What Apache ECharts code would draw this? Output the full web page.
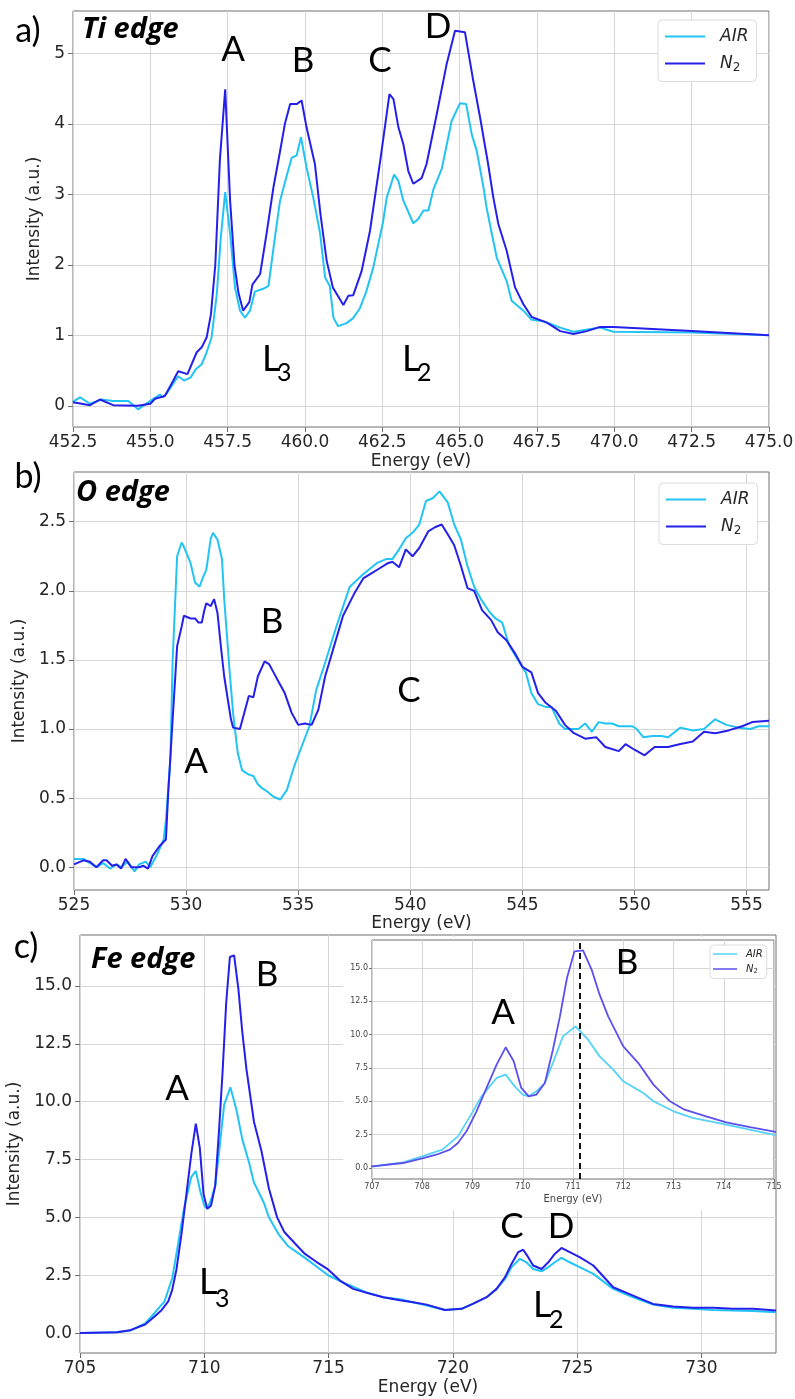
<!DOCTYPE html>
<html>
<head>
<meta charset="utf-8">
<script src="https://cdn.jsdelivr.net/npm/echarts@6/dist/echarts.min.js"></script>
<style>
html,body{margin:0;padding:0;background:#fff;}
#chart{width:795px;height:1399px;}
</style>
</head>
<body>
<div id="chart"></div>
<script>
// ---------- DATA ----------
// Panel a: Ti edge [energy eV, intensity]
const tiAir = [[452.5,0.06],[452.73,0.12],[453.05,0.03],[453.43,0.09],[453.8,0.07],[454.29,0.07],[454.6,-0.05],[455.0,0.07],[455.31,0.16],[455.4,0.12],[455.55,0.19],[455.9,0.42],[456.09,0.36],[456.3,0.4],[456.47,0.52],[456.66,0.59],[456.82,0.76],[456.98,0.97],[457.15,1.59],[457.28,2.4],[457.42,3.03],[457.58,2.44],[457.74,1.67],[457.9,1.35],[458.06,1.25],[458.22,1.35],[458.38,1.62],[458.65,1.66],[458.82,1.7],[459.0,2.3],[459.19,2.9],[459.4,3.25],[459.57,3.52],[459.73,3.55],[459.87,3.81],[460.05,3.38],[460.27,2.95],[460.49,2.44],[460.65,1.82],[460.8,1.7],[460.92,1.25],[461.07,1.13],[461.33,1.17],[461.55,1.24],[461.77,1.38],[461.98,1.62],[462.2,1.95],[462.52,2.6],[462.64,2.95],[462.88,3.28],[463.02,3.19],[463.18,2.91],[463.5,2.59],[463.66,2.65],[463.83,2.77],[463.99,2.77],[464.15,3.07],[464.42,3.36],[464.74,4.04],[465.01,4.29],[465.21,4.28],[465.39,3.85],[465.55,3.62],[465.77,3.1],[465.87,2.81],[466.04,2.44],[466.2,2.1],[466.52,1.77],[466.68,1.49],[467.06,1.35],[467.33,1.22],[467.7,1.2],[468.25,1.11],[468.68,1.05],[469.54,1.11],[469.97,1.05],[472.5,1.04],[475.0,1.0]];
const tiN2 = [[452.5,0.05],[453.05,0.01],[453.37,0.09],[453.8,0.01],[454.6,0.0],[455.0,0.03],[455.15,0.1],[455.47,0.14],[455.73,0.35],[455.9,0.49],[456.2,0.45],[456.5,0.76],[456.66,0.83],[456.82,0.97],[456.96,1.3],[457.1,2.0],[457.25,3.5],[457.42,4.49],[457.58,2.9],[457.72,2.0],[457.85,1.6],[458.0,1.35],[458.2,1.47],[458.3,1.72],[458.55,1.87],[458.76,2.45],[458.98,3.1],[459.19,3.6],[459.35,4.0],[459.52,4.28],[459.73,4.28],[459.89,4.33],[460.05,3.95],[460.32,3.43],[460.5,2.72],[460.7,2.06],[460.9,1.68],[461.24,1.43],[461.4,1.56],[461.56,1.57],[461.83,1.91],[462.1,2.48],[462.43,3.47],[462.73,4.42],[462.86,4.35],[463.02,3.95],[463.18,3.71],[463.34,3.33],[463.5,3.15],[463.77,3.23],[463.93,3.43],[464.26,4.14],[464.58,4.85],[464.85,5.32],[465.17,5.3],[465.44,4.61],[465.66,4.09],[465.92,3.43],[466.09,2.95],[466.25,2.58],[466.52,2.2],[466.79,1.68],[467.06,1.44],[467.33,1.26],[467.82,1.18],[468.25,1.06],[468.68,1.02],[469.11,1.06],[469.54,1.12],[469.97,1.12],[472.5,1.06],[475.0,1.0]];

// Panel b: O edge
const oAir = [[525.0,0.06],[525.42,0.06],[525.71,0.03],[526.0,0.0],[526.3,0.03],[526.6,-0.01],[526.9,0.02],[527.1,0.0],[527.4,0.04],[527.7,-0.03],[527.9,0.02],[528.2,0.04],[528.4,0.0],[528.7,0.09],[529.0,0.2],[529.1,0.34],[529.3,0.78],[529.4,1.5],[529.6,2.25],[529.8,2.35],[529.9,2.32],[530.2,2.2],[530.4,2.06],[530.6,2.03],[530.76,2.1],[530.9,2.15],[531.1,2.38],[531.2,2.42],[531.4,2.37],[531.6,2.23],[531.7,1.94],[531.95,1.4],[532.1,1.11],[532.3,0.83],[532.5,0.7],[532.8,0.67],[533.0,0.66],[533.2,0.6],[533.4,0.57],[533.6,0.55],[533.9,0.51],[534.2,0.49],[534.5,0.56],[534.8,0.72],[535.1,0.85],[535.5,1.02],[535.8,1.28],[536.2,1.48],[536.7,1.74],[537.3,2.03],[537.9,2.12],[538.5,2.2],[538.92,2.23],[539.2,2.23],[539.5,2.3],[539.8,2.38],[540.1,2.42],[540.4,2.48],[540.7,2.65],[541.0,2.67],[541.3,2.72],[541.67,2.64],[541.96,2.48],[542.26,2.37],[542.55,2.18],[542.85,2.03],[543.15,1.94],[543.52,1.85],[543.8,1.8],[544.1,1.77],[544.4,1.61],[544.8,1.5],[545.15,1.41],[545.4,1.26],[545.7,1.18],[546.04,1.16],[546.3,1.16],[546.64,1.04],[546.9,1.0],[547.5,1.0],[547.8,1.04],[548.1,0.98],[548.4,1.05],[548.7,1.04],[549.0,1.04],[549.3,1.02],[549.9,1.02],[550.1,1.0],[550.4,0.94],[550.8,0.95],[551.2,0.95],[551.5,0.94],[552.05,1.01],[552.6,0.99],[553.1,1.0],[553.6,1.07],[554.1,1.03],[554.65,1.01],[555.17,1.0],[555.54,1.02],[556.0,1.02]];
const oN2 = [[525.0,0.02],[525.42,0.05],[525.71,0.04],[526.0,0.0],[526.3,0.05],[526.45,0.05],[526.7,0.01],[526.9,0.02],[527.1,-0.01],[527.3,0.06],[527.55,0.0],[527.75,0.0],[527.9,0.0],[528.1,0.01],[528.3,-0.01],[528.5,0.08],[528.8,0.15],[529.1,0.2],[529.2,0.53],[529.4,1.07],[529.6,1.6],[529.8,1.74],[529.9,1.82],[530.2,1.8],[530.4,1.8],[530.55,1.77],[530.7,1.77],[530.8,1.85],[530.9,1.91],[531.1,1.89],[531.25,1.94],[531.4,1.84],[531.55,1.6],[531.7,1.38],[532.0,1.07],[532.1,1.01],[532.4,1.0],[532.6,1.12],[532.8,1.24],[533.0,1.23],[533.2,1.38],[533.5,1.49],[533.7,1.47],[533.9,1.41],[534.1,1.35],[534.4,1.26],[534.7,1.12],[535.0,1.03],[535.3,1.04],[535.6,1.03],[535.9,1.14],[536.2,1.38],[536.6,1.6],[537.0,1.82],[537.5,1.98],[537.9,2.09],[538.3,2.13],[538.6,2.16],[539.0,2.2],[539.2,2.21],[539.5,2.17],[539.8,2.3],[540.1,2.25],[540.4,2.31],[540.8,2.43],[541.1,2.46],[541.4,2.48],[541.67,2.41],[541.96,2.33],[542.26,2.18],[542.55,2.02],[542.85,2.0],[543.2,1.86],[543.6,1.79],[543.9,1.7],[544.3,1.64],[544.7,1.54],[545.0,1.45],[545.4,1.41],[545.7,1.26],[546.04,1.19],[546.5,1.13],[546.9,1.03],[547.3,0.97],[547.8,0.93],[548.3,0.94],[548.7,0.87],[549.3,0.84],[549.6,0.89],[550.0,0.85],[550.45,0.81],[550.9,0.87],[551.5,0.87],[552.0,0.89],[552.6,0.91],[553.1,0.98],[553.6,0.97],[554.2,0.99],[554.8,1.02],[555.25,1.05],[556.0,1.06]];

// Panel c: Fe edge (also shown in the inset)
const feAir = [[705.0,0.0],[705.5,0.02],[706.0,0.03],[706.5,0.05],[707.0,0.1],[707.62,0.42],[708.0,0.87],[708.4,1.37],[708.71,2.37],[708.95,3.87],[709.18,5.37],[709.48,6.75],[709.66,7.0],[709.84,6.12],[710.0,5.5],[710.12,5.37],[710.27,5.75],[710.44,6.37],[710.6,7.87],[710.8,9.87],[711.05,10.62],[711.3,9.62],[711.53,8.37],[711.8,7.37],[712.0,6.5],[712.4,5.62],[712.6,5.0],[713.0,4.25],[713.38,3.75],[714.05,3.25],[714.98,2.5],[715.7,2.13],[716.5,1.77],[717.2,1.55],[717.87,1.46],[718.95,1.19],[719.68,1.0],[720.35,1.05],[720.8,1.26],[721.36,1.55],[721.76,1.91],[722.1,2.34],[722.36,2.85],[722.7,3.21],[722.96,3.06],[723.23,2.77],[723.57,2.67],[723.84,2.85],[724.1,3.06],[724.37,3.25],[724.7,3.06],[725.1,2.85],[725.65,2.56],[726.45,1.91],[727.25,1.55],[728.05,1.23],[728.86,1.09],[729.66,1.05],[730.47,1.0],[731.27,0.98],[732.07,0.95],[733.0,0.9]];
const feN2 = [[705.0,0.0],[705.5,0.02],[706.0,0.03],[706.5,0.04],[707.0,0.12],[707.62,0.37],[708.0,0.72],[708.28,0.99],[708.55,1.37],[708.71,1.87],[708.88,2.75],[709.08,4.25],[709.28,6.0],[709.48,7.75],[709.66,9.05],[709.82,8.0],[709.97,6.0],[710.12,5.37],[710.27,5.5],[710.44,6.37],[710.6,8.87],[710.74,11.37],[710.88,14.25],[711.03,16.25],[711.2,16.32],[711.37,14.88],[711.53,13.0],[711.7,11.37],[712.0,9.12],[712.3,7.87],[712.6,6.25],[712.93,5.0],[713.22,4.37],[713.65,3.87],[714.05,3.42],[714.52,3.07],[714.98,2.75],[715.46,2.27],[715.99,1.91],[716.67,1.7],[717.2,1.55],[717.87,1.42],[718.4,1.33],[718.95,1.23],[719.68,1.0],[720.35,1.05],[720.8,1.26],[721.36,1.55],[721.76,1.91],[722.1,2.42],[722.36,2.99],[722.63,3.5],[722.83,3.6],[723.03,3.28],[723.23,2.92],[723.57,2.77],[723.84,3.06],[724.1,3.42],[724.37,3.68],[724.7,3.5],[725.1,3.28],[725.65,2.92],[726.45,1.98],[727.25,1.62],[728.05,1.26],[728.86,1.15],[729.66,1.09],[730.47,1.09],[731.27,1.05],[732.07,1.05],[733.0,0.98]];
const feMarkerE = 711.13; // dashed line in the inset

// Tick labels
const tiXTicks = [452.5,455,457.5,460,462.5,465,467.5,470,472.5,475];
const tiYTicks = [0,1,2,3,4,5];
const oXTicks = [525,530,535,540,545,550,555];
const oYTicks = [0,0.5,1,1.5,2,2.5];
const feXTicks = [705,710,715,720,725,730];
const feYTicks = [0,2.5,5,7.5,10,12.5,15];
const insetXTicks = [707,708,709,710,711,712,713,714,715];

// ---------- STYLE ----------
const C_AIR = '#22c4f4', C_N2 = '#2420ea';
const C_AIR_I = '#55d3f6', C_N2_I = '#5b50ef';
const FONT = 'DejaVu Sans';
const ANN = 'Lato';
const TITLE = 'Open Sans';
const FRAME = '#6f6f6f', GRIDC = '#d6d6d6', TXT = '#262626';

function xAxisDef(idx, min, max, ticks, fmt, nameGap, small) {
  return {
    type:'value', gridIndex: idx, min, max, position:'bottom',
    name:'Energy (eV)', nameLocation:'middle', nameGap,
    nameTextStyle:{fontFamily:FONT, fontSize: small?10:17, color: small?'#444':TXT},
    axisLine:{show:false, onZero:false},
    axisTick:{show:true, length: small?3:5, customValues: ticks, lineStyle:{color:FRAME}},
    axisLabel:{customValues: ticks, formatter: fmt, fontFamily:FONT, fontSize: small?8:17, color: small?'#444':TXT, margin: small?4:7},
    splitLine:{show:true, lineStyle:{color:GRIDC, width:1}},
    z: small?7:0
  };
}
function yAxisDef(idx, min, max, ticks, fmt, nameGap, small) {
  return {
    type:'value', gridIndex: idx, min, max,
    name: small ? '' : 'Intensity (a.u.)', nameLocation:'middle', nameGap, nameRotate:90,
    nameTextStyle:{fontFamily:FONT, fontSize:17, color:TXT},
    axisLine:{show:false, onZero:false},
    axisTick:{show:true, length: small?3:5, customValues: ticks, lineStyle:{color:FRAME}},
    axisLabel:{customValues: ticks, formatter: fmt, fontFamily:FONT, fontSize: small?8:17, color: small?'#444':TXT, margin: small?4:8},
    splitLine:{show:true, lineStyle:{color:GRIDC, width:1}},
    z: small?7:0
  };
}
const f1 = v => v.toFixed(1);
const f0 = v => String(Math.round(v));

function lineSeries(name, data, xi, color, z, width) {
  return {type:'line', name, data, xAxisIndex:xi, yAxisIndex:xi, showSymbol:false, symbol:'none',
    lineStyle:{color, width}, itemStyle:{color}, z, animation:false, silent:true};
}

function legendDef(left, top, names, small) {
  const fs = small ? 10 : 17;
  return {
    left, top, orient:'vertical', data:names, selectedMode:false, icon:'rect',
    itemWidth: small?24:40, itemHeight: small?1.5:2, itemGap: small?5:10,
    padding: small?[4,4,4,3]:[8,8,8,7],
    backgroundColor:'#fff', borderColor:'#dcdcdc', borderWidth:1, borderRadius:4, z:12,
    formatter: n => n.startsWith('N2') ? '{n|N}{s|2}' : '{n|AIR}',
    textStyle:{fontFamily:FONT, fontSize:fs, color:TXT, padding:[0,0,0,small?4:10],
      rich:{
        n:{fontFamily:FONT, fontStyle:'italic', fontSize:fs, color:TXT},
        s:{fontFamily:FONT, fontSize: small?7:12, color:TXT, padding:[small?4:8,0,0,0]}
      }}
  };
}

function txt(text, x, y, size, opts) {
  opts = opts || {};
  return {type:'text', x, y, z: opts.z || 20, silent:true,
    style:{text, fontFamily: opts.family || ANN, fontSize:size, fontWeight: opts.weight||'normal', fontStyle: opts.style||'normal',
      fill:'#000', align: opts.align||'center', verticalAlign:'middle', textAlign: opts.align||'center', textVerticalAlign:'middle'}};
}
const titleOpts = {align:'left', weight:'bold', style:'italic', family: TITLE};

const option = {
  backgroundColor:'#fff',
  animation:false,
  grid:[
    {left:73, top:11, width:696, height:416, show:true, borderColor:FRAME, borderWidth:1, backgroundColor:'transparent', outerBoundsMode:'none', containLabel:false},
    {left:74, top:472, width:695, height:418, show:true, borderColor:FRAME, borderWidth:1, backgroundColor:'transparent', outerBoundsMode:'none', containLabel:false},
    {left:80, top:935, width:696, height:418, show:true, borderColor:FRAME, borderWidth:1, backgroundColor:'transparent', outerBoundsMode:'none', containLabel:false},
    {left:372, top:940, width:402, height:239, show:true, borderColor:FRAME, borderWidth:1, backgroundColor:'#fff', outerBoundsMode:'none', containLabel:false, z:6}
  ],
  xAxis:[
    xAxisDef(0, 452.5, 475, tiXTicks, f1, 26),
    xAxisDef(1, 525, 556, oXTicks, f0, 24),
    xAxisDef(2, 705, 733, feXTicks, f0, 26),
    xAxisDef(3, 707, 715, insetXTicks, f0, 15, true)
  ],
  yAxis:[
    yAxisDef(0, -0.3, 5.6, tiYTicks, f0, 24),
    yAxisDef(1, -0.165, 2.86, oYTicks, f1, 41),
    yAxisDef(2, -0.86, 17.2, feYTicks, f1, 50),
    yAxisDef(3, -0.83, 17.1, feYTicks, f1, 0, true)
  ],
  legend:[
    legendDef(658, 20, ['AIR','N2']),
    legendDef(659, 483, ['AIR','N2']),
    legendDef(710, 945, ['AIR_inset','N2_inset'], true)
  ],
  series:[
    lineSeries('AIR', tiAir, 0, C_AIR, 3, 2),
    lineSeries('N2', tiN2, 0, C_N2, 3, 2),
    lineSeries('AIR', oAir, 1, C_AIR, 3, 2),
    lineSeries('N2', oN2, 1, C_N2, 3, 2),
    lineSeries('AIR', feAir, 2, C_AIR, 3, 2),
    lineSeries('N2', feN2, 2, C_N2, 3, 2),
    lineSeries('AIR_inset', feAir, 3, C_AIR_I, 8, 1.8),
    Object.assign(lineSeries('N2_inset', feN2, 3, C_N2_I, 8, 1.8), {
      markLine:{silent:true, symbol:'none', label:{show:false}, animation:false, z:9,
        lineStyle:{type:[6,4], color:'#111', width:2}, data:[{xAxis: feMarkerE}]}
    })
  ],
  graphic:[
    {type:'rect', shape:{x:343, y:937, width:432, height:273}, style:{fill:'#fff'}, z:5, silent:true},
    // panel a
    txt('a)', 28, 31, 34),
    txt('Ti edge', 82, 30, 29, titleOpts),
    txt('A', 233, 50, 35), txt('B', 303, 61, 35), txt('C', 380, 61, 35), txt('D', 438, 27, 35),
    txt('L', 262, 359, 36, {align:'left'}), txt('3', 277, 373, 25, {align:'left'}),
    txt('L', 402, 359, 36, {align:'left'}), txt('2', 417, 373, 25, {align:'left'}),
    // panel b
    txt('b)', 28, 477, 34),
    txt('O edge', 76, 493, 29, titleOpts),
    txt('A', 196, 762, 35), txt('B', 272, 622, 35), txt('C', 409, 691, 35),
    // panel c
    txt('c)', 26, 947, 34),
    txt('Fe edge', 91, 960, 29, titleOpts),
    txt('A', 177, 1089, 35), txt('B', 267, 975, 35),
    txt('L', 199, 1282, 36, {align:'left'}), txt('3', 215, 1299, 25, {align:'left'}),
    txt('C', 512, 1227, 35), txt('D', 561, 1227, 35),
    txt('L', 533, 1305, 36, {align:'left'}), txt('2', 549, 1320, 25, {align:'left'}),
    // inset
    txt('A', 503, 1013, 35), txt('B', 627, 963, 35)
  ]
};

const chart = echarts.init(document.getElementById('chart'), null, {renderer:'canvas', width:795, height:1399});
chart.setOption(option);
</script>
</body>
</html>
